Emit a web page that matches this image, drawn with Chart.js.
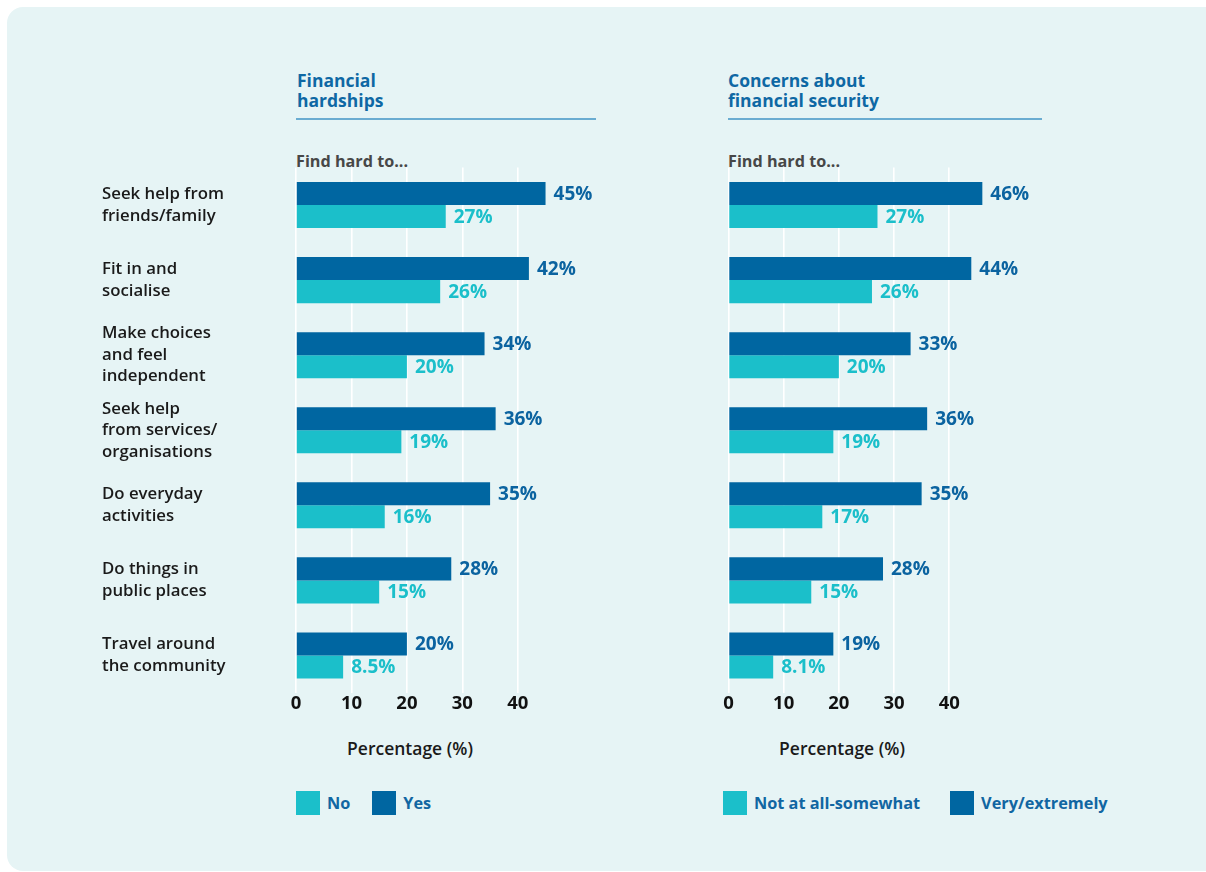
<!DOCTYPE html>
<html>
<head>
<meta charset="utf-8">
<title>Find hard to... by financial hardship and financial security concerns</title>
<script src="https://cdn.jsdelivr.net/npm/chart.js@4.4.1/dist/chart.umd.min.js"></script>
<style>
  html, body { margin: 0; padding: 0; background: #ffffff; }
  body { width: 1206px; height: 872px; position: relative; overflow: hidden;
         font-family: "Open Sans", "Noto Sans", sans-serif; }
  .panel { position: absolute; left: 7px; top: 7px; width: 1230px; height: 864px;
           background: #e6f4f5; border-radius: 16px; }
  .abs { position: absolute; white-space: nowrap; }
  .title { font-size: 17.5px; font-weight: 700; color: #0e68a4; line-height: 20px; }
  .rule { height: 2px; background: #6aacd1; }
  .sub { font-size: 16.2px; font-weight: 700; color: #474747; line-height: 20px; }
  .axis-title { font-size: 17.5px; font-weight: 600; color: #1a1a1a; line-height: 22px; transform: translateX(-50%); }
  .legend { display: flex; align-items: center; font-size: 16.3px; font-weight: 700; color: #1166a2; }
  .legend .sw { width: 24px; height: 24px; margin-right: 7px; }
  canvas { position: absolute; }
</style>
</head>
<body>
<div class="panel"></div>

<div class="abs title" style="left:297px; top:70px;">Financial<br>hardships</div>
<div class="abs rule" style="left:296px; top:118px; width:300px;"></div>
<div class="abs sub" style="left:296px; top:151px;">Find hard to...</div>

<div class="abs title" style="left:728px; top:70px;">Concerns about<br>financial security</div>
<div class="abs rule" style="left:728px; top:118px; width:314px;"></div>
<div class="abs sub" style="left:728px; top:151px;">Find hard to...</div>

<canvas id="left" width="499" height="557" style="left:102px; top:160px; width:499px; height:557px;"></canvas>
<canvas id="right" width="332" height="557" style="left:700px; top:160px; width:332px; height:557px;"></canvas>

<div class="abs axis-title" style="left:410px; top:737px;">Percentage (%)</div>
<div class="abs axis-title" style="left:842px; top:737px;">Percentage (%)</div>

<div class="abs legend" style="left:296px; top:791px;">
  <span class="sw" style="background:#1bbfca"></span><span>No</span>
  <span class="sw" style="background:#0066a1; margin-left:22px;"></span><span>Yes</span>
</div>
<div class="abs legend" style="left:723px; top:791px;">
  <span class="sw" style="background:#1bbfca"></span><span>Not at all-somewhat</span>
  <span class="sw" style="background:#0066a1; margin-left:30px;"></span><span>Very/extremely</span>
</div>

<script>
// Activities people find hard to do
const categories = [
  ["Seek help from", "friends/family"],
  ["Fit in and", "socialise"],
  ["Make choices", "and feel", "independent"],
  ["Seek help", "from services/", "organisations"],
  ["Do everyday", "activities"],
  ["Do things in", "public places"],
  ["Travel around", "the community"]
];

// Financial hardships (%)
const hardshipYes = [45, 42, 34, 36, 35, 28, 20];
const hardshipNo  = [27, 26, 20, 19, 16, 15, 8.5];

// Concerns about financial security (%)
const securityVery = [46, 44, 33, 36, 35, 28, 19];
const securityNot  = [27, 26, 20, 19, 17, 15, 8.1];

const xTicks = [0, 10, 20, 30, 40];

const DARK = '#0066a1';
const TEAL = '#1bbfca';
const FONT = '"Open Sans", "Noto Sans", sans-serif';

const fmt = v => (Number.isInteger(v) ? v : v.toFixed(1)) + '%';

// Writes each bar's value just past its end
const valueLabels = {
  id: 'valueLabels',
  afterDatasetsDraw(chart) {
    const ctx = chart.ctx;
    chart.data.datasets.forEach((ds, i) => {
      const meta = chart.getDatasetMeta(i);
      meta.data.forEach((bar, j) => {
        ctx.save();
        ctx.font = '700 19px ' + FONT;
        ctx.fillStyle = ds.labelColor;
        ctx.textAlign = 'left';
        ctx.textBaseline = 'middle';
        ctx.fillText(fmt(ds.data[j]), bar.x + 8, bar.y + 1);
        ctx.restore();
      });
    });
  }
};

function makeChart(id, upper, lower, upperName, lowerName, showLabels) {
  return new Chart(document.getElementById(id), {
    type: 'bar',
    data: {
      labels: categories,
      datasets: [
        { label: upperName, data: upper, backgroundColor: DARK, labelColor: '#0b63a0' },
        { label: lowerName, data: lower, backgroundColor: TEAL, labelColor: TEAL }
      ]
    },
    options: {
      indexAxis: 'y',
      responsive: false,
      animation: false,
      devicePixelRatio: 1,
      layout: { padding: { top: 7.5, left: showLabels ? 0 : 28.5, right: 0, bottom: 0 } },
      datasets: { bar: { categoryPercentage: 46 / 75, barPercentage: 1, borderWidth: 0 } },
      plugins: { legend: { display: false }, tooltip: { enabled: false }, title: { display: false } },
      scales: {
        x: {
          min: 0, max: 55,
          afterBuildTicks(scale) { scale.ticks = xTicks.map(v => ({ value: v })); },
          afterFit(scale) { scale.height = 24; scale.paddingLeft = 0; scale.paddingRight = 0; },
          grid: { color: '#ffffff', lineWidth: 1.6, drawTicks: false },
          border: { display: false },
          ticks: { padding: 0, color: '#111111', font: { family: FONT, size: 18.5, weight: '700' } }
        },
        y: {
          display: showLabels,
          afterFit(scale) {
            if (showLabels) scale.width = 194;
            scale.paddingTop = 0;
            scale.paddingBottom = 0;
          },
          grid: { display: false },
          border: { display: false },
          ticks: {
            crossAlign: 'far',
            padding: 0,
            color: '#1a1a1a',
            font: { family: FONT, size: 16.8, weight: '600', lineHeight: 1.28 }
          }
        }
      }
    },
    plugins: [valueLabels]
  });
}

makeChart('left', hardshipYes, hardshipNo, 'Yes', 'No', true);
makeChart('right', securityVery, securityNot, 'Very/extremely', 'Not at all-somewhat', false);
</script>
</body>
</html>
